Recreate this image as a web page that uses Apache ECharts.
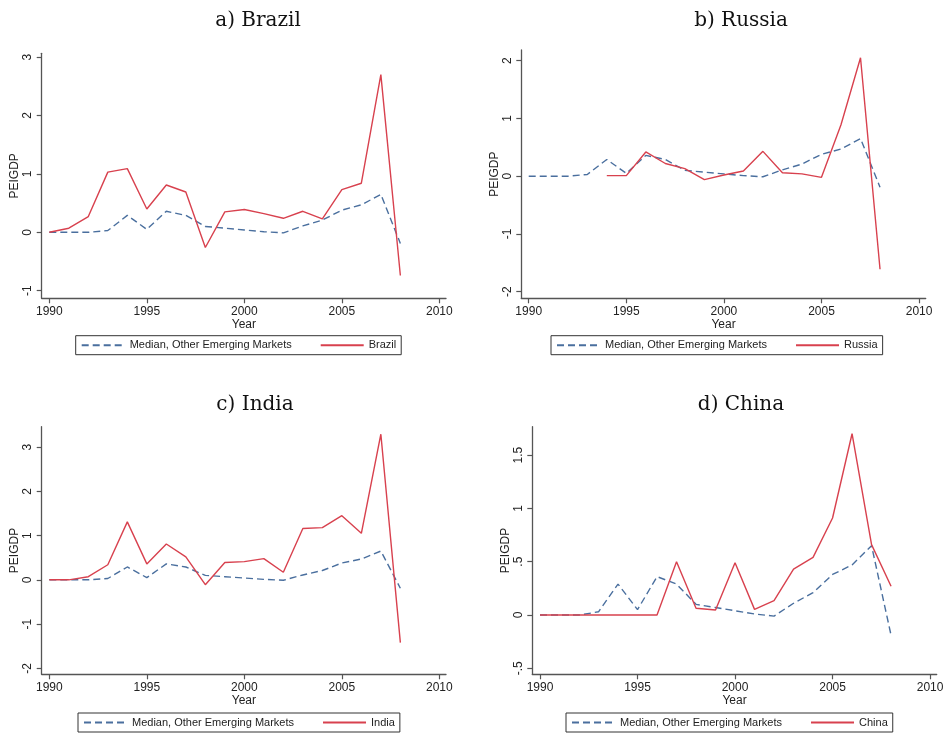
<!DOCTYPE html>
<html>
<head>
<meta charset="utf-8">
<script src="https://cdn.jsdelivr.net/npm/echarts@6/dist/echarts.min.js"></script>
<style>
html, body { margin: 0; padding: 0; background: #ffffff; }
#chart { width: 948px; height: 739px; }
</style>
</head>
<body>
<div id="chart"></div>
<script>
// Private equity inflows relative to GDP, 1990-2008
const years = [1990, 1991, 1992, 1993, 1994, 1995, 1996, 1997, 1998, 1999,
               2000, 2001, 2002, 2003, 2004, 2005, 2006, 2007, 2008];

const medianOther = [0, 0, 0, 0.03, 0.29, 0.05, 0.36, 0.29, 0.10, 0.07,
                     0.04, 0.01, -0.01, 0.11, 0.21, 0.38, 0.47, 0.65, -0.19];
const brazil = [0, 0.07, 0.27, 1.03, 1.09, 0.40, 0.81, 0.69, -0.26, 0.35,
                0.39, 0.32, 0.24, 0.36, 0.23, 0.73, 0.84, 2.70, -0.74];
const russia = [null, null, null, null, 0.01, 0.01, 0.42, 0.22, 0.13, -0.06,
                0.02, 0.09, 0.43, 0.06, 0.04, -0.02, 0.89, 2.05, -1.61];
const india = [0, 0, 0.07, 0.34, 1.31, 0.36, 0.81, 0.52, -0.11, 0.39,
               0.41, 0.48, 0.17, 1.16, 1.18, 1.45, 1.05, 3.29, -1.42];
const china = [0, 0, 0, 0, 0, 0, 0, 0.50, 0.063, 0.047,
               0.49, 0.053, 0.135, 0.43, 0.54, 0.91, 1.70, 0.66, 0.27];

const xTicks = [1990, 1995, 2000, 2005, 2010];
const yTicksBrazil = [-1, 0, 1, 2, 3];
const yTicksRussia = [-2, -1, 0, 1, 2];
const yTicksIndia = [-2, -1, 0, 1, 2, 3];
const yTicksChina = [-0.5, 0, 0.5, 1, 1.5];

const medianName = 'Median, Other Emerging Markets';

// Layout of the four panels
const panels = [
  { title: 'a) Brazil', country: 'Brazil', values: brazil, yTicks: yTicksBrazil,
    grid: { left: 41.7, top: 53.3, width: 404.3, height: 245 },
    xMin: 1989.61, xMax: 2010.34, yMin: -1.13, yMax: 3.065,
    titleX: 253, titleTop: 6, legendLeft: 75.7, legendTop: 335.7 },
  { title: 'b) Russia', country: 'Russia', values: russia, yTicks: yTicksRussia,
    grid: { left: 521.3, top: 50, width: 404.4, height: 248.3 },
    xMin: 1989.62, xMax: 2010.34, yMin: -2.114, yMax: 2.185,
    titleX: 736, titleTop: 6, legendLeft: 551, legendTop: 335.7 },
  { title: 'c) India', country: 'India', values: india, yTicks: yTicksIndia,
    grid: { left: 41.7, top: 426.7, width: 404.3, height: 247.6 },
    xMin: 1989.61, xMax: 2010.34, yMin: -2.135, yMax: 3.46,
    titleX: 250, titleTop: 390, legendLeft: 78, legendTop: 713 },
  { title: 'd) China', country: 'China', values: china, yTicks: yTicksChina,
    grid: { left: 532.3, top: 426.7, width: 404.4, height: 247.6 },
    xMin: 1989.605, xMax: 2010.34, yMin: -0.556, yMax: 1.766,
    titleX: 736, titleTop: 390, legendLeft: 566, legendTop: 713 }
];

const axisColor = '#555555';
const textColor = '#222222';
const blue = '#4a6f9e';
const red = '#d8414e';
const sans = '"Liberation Sans", Arial, sans-serif';

function fmtTick(v) {
  return String(v).replace(/^(-?)0\./, '$1.');
}

const option = {
  backgroundColor: '#ffffff',
  animation: false,
  title: [], grid: [], xAxis: [], yAxis: [], legend: [], series: []
};

panels.forEach(function (p, i) {
  option.title.push({
    text: p.title, left: p.titleX, top: p.titleTop, textAlign: 'center',
    textStyle: { fontFamily: '"DejaVu Serif", serif', fontSize: 20, fontWeight: 'normal', color: '#111' }
  });
  option.grid.push(Object.assign({ containLabel: false }, p.grid));
  option.xAxis.push({
    type: 'value', gridIndex: i, min: p.xMin, max: p.xMax,
    name: 'Year', nameLocation: 'middle', nameGap: 18,
    nameTextStyle: { fontFamily: sans, fontSize: 12, color: textColor },
    axisLine: { show: true, onZero: false, lineStyle: { color: axisColor, width: 1.3 } },
    axisTick: { show: true, length: 5, customValues: xTicks, lineStyle: { color: axisColor, width: 1.2 } },
    axisLabel: { customValues: xTicks, margin: 7, fontFamily: sans, fontSize: 12, color: textColor,
                 formatter: function (v) { return String(v); } },
    splitLine: { show: false }
  });
  option.yAxis.push({
    type: 'value', gridIndex: i, min: p.yMin, max: p.yMax,
    name: 'PEIGDP', nameLocation: 'middle', nameGap: 21,
    nameTextStyle: { fontFamily: sans, fontSize: 12, color: textColor },
    axisLine: { show: true, onZero: false, lineStyle: { color: axisColor, width: 1.3 } },
    axisTick: { show: true, length: 5, customValues: p.yTicks, lineStyle: { color: axisColor, width: 1.2 } },
    axisLabel: { customValues: p.yTicks, rotate: 90, margin: 8, fontFamily: sans, fontSize: 12, color: textColor,
                 formatter: fmtTick },
    splitLine: { show: false }
  });
  option.legend.push({
    left: p.legendLeft, top: p.legendTop, orient: 'horizontal',
    data: [medianName, p.country],
    itemWidth: 43, itemHeight: 10, itemGap: 28,
    padding: [4, 5, 4, 5],
    borderColor: '#333333', borderWidth: 1, borderRadius: 0,
    selectedMode: false,
    itemStyle: { opacity: 0 },
    textStyle: { fontFamily: sans, fontSize: 11, color: textColor }
  });
  option.series.push({
    name: medianName, type: 'line', xAxisIndex: i, yAxisIndex: i,
    data: years.map(function (y, k) { return [y, medianOther[k]]; }),
    symbol: 'none', silent: true,
    lineStyle: { color: blue, width: 1.4, type: [7, 4] },
    itemStyle: { color: blue }
  });
  option.series.push({
    name: p.country, type: 'line', xAxisIndex: i, yAxisIndex: i,
    data: years.map(function (y, k) { return [y, p.values[k]]; }),
    symbol: 'none', silent: true, connectNulls: false,
    lineStyle: { color: red, width: 1.4 },
    itemStyle: { color: red }
  });
});

const chart = echarts.init(document.getElementById('chart'), null, { renderer: 'canvas' });
chart.setOption(option);
</script>
</body>
</html>
